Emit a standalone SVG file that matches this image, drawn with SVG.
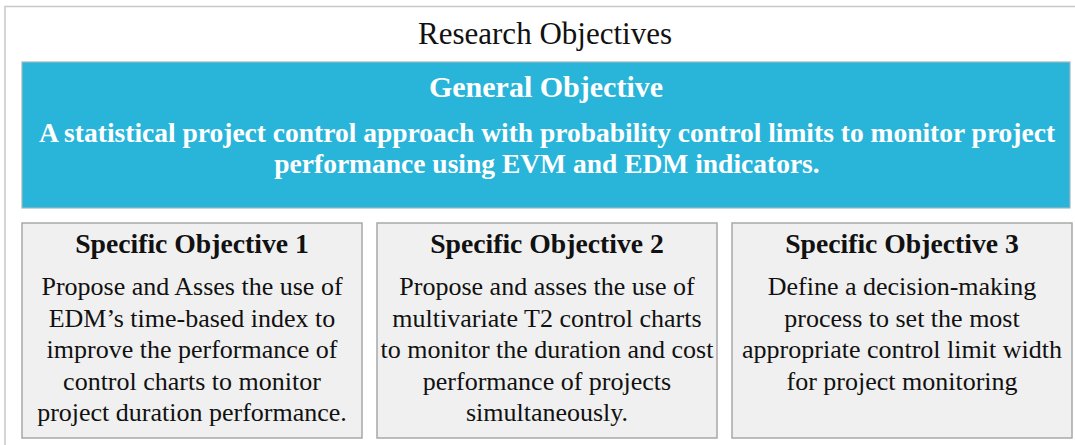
<svg xmlns="http://www.w3.org/2000/svg" width="1075" height="445" viewBox="0 0 1075 445">
  <style>
    .frame { fill: #ffffff; stroke: #c8c8c8; stroke-width: 1.5; }
    .general { fill: #29b5d9; stroke: #9fb8c0; stroke-width: 1.2; }
    .specific { fill: #f0f0f0; stroke: #a8a8a8; stroke-width: 1.5; }
    .title { font-family: "Liberation Serif", "Times New Roman", serif; font-size: 31px; fill: #111111; text-anchor: middle; }
    .ghead { font-family: "Liberation Serif", "Times New Roman", serif; font-size: 30px; font-weight: bold; fill: #ffffff; text-anchor: middle; }
    .gbody { font-family: "Liberation Serif", "Times New Roman", serif; font-size: 27.5px; font-weight: bold; fill: #ffffff; text-anchor: middle; }
    .shead { font-family: "Liberation Serif", "Times New Roman", serif; font-size: 27.7px; font-weight: bold; fill: #111111; text-anchor: middle; }
    .sbody { font-family: "Liberation Serif", "Times New Roman", serif; font-size: 26px; fill: #111111; text-anchor: middle; }
  </style>

  <!-- outer panel -->
  <rect class="frame" x="5" y="6.5" width="1090" height="460"/>
  <text class="title" x="545" y="44">Research Objectives</text>

  <g id="general-objective">
    <rect class="general" x="22" y="62" width="1048" height="146"/>
    <text class="ghead" x="546" y="97">General Objective</text>
    <text class="gbody" x="547" y="142">A statistical project control approach with probability control limits to monitor project</text>
    <text class="gbody" x="547" y="173">performance using EVM and EDM indicators.</text>
  </g>

  <g id="specific-objective-1">
    <rect class="specific" x="22" y="223" width="340" height="215"/>
    <text class="shead" x="192" y="253">Specific Objective 1</text>
    <text class="sbody" x="192" y="295">Propose and Asses the use of</text>
    <text class="sbody" x="192" y="326.5">EDM’s time-based index to</text>
    <text class="sbody" x="192" y="358">improve the performance of</text>
    <text class="sbody" x="192" y="389.5">control charts to monitor</text>
    <text class="sbody" x="192" y="421">project duration performance.</text>
  </g>

  <g id="specific-objective-2">
    <rect class="specific" x="377" y="223" width="340" height="215"/>
    <text class="shead" x="547" y="253">Specific Objective 2</text>
    <text class="sbody" x="547" y="295">Propose and asses the use of</text>
    <text class="sbody" x="547" y="326.5">multivariate T2 control charts</text>
    <text class="sbody" x="547" y="358">to monitor the duration and cost</text>
    <text class="sbody" x="547" y="389.5">performance of projects</text>
    <text class="sbody" x="547" y="421">simultaneously.</text>
  </g>

  <g id="specific-objective-3">
    <rect class="specific" x="732" y="223" width="340" height="215"/>
    <text class="shead" x="902" y="253">Specific Objective 3</text>
    <text class="sbody" x="902" y="295">Define a decision-making</text>
    <text class="sbody" x="902" y="326.5">process to set the most</text>
    <text class="sbody" x="902" y="358">appropriate control limit width</text>
    <text class="sbody" x="902" y="389.5">for project monitoring</text>
  </g>

  <g id="connectors"></g>
</svg>
